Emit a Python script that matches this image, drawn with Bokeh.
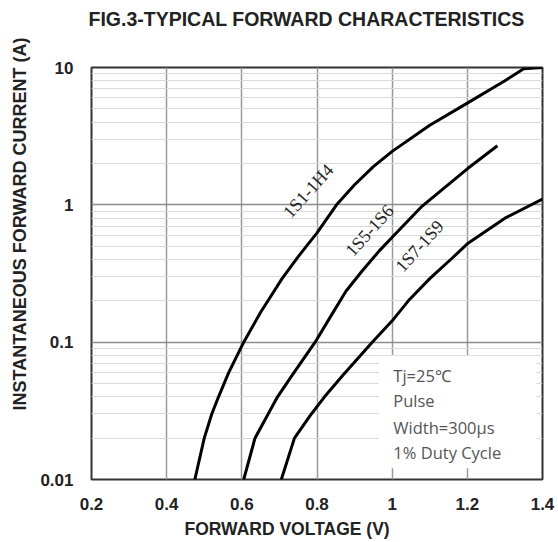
import math
from bokeh.plotting import figure
from bokeh.models import FixedTicker, Label, Title
from bokeh.embed import file_html
from bokeh.resources import INLINE

# ---- data ----
x_ticks = [0.2, 0.4, 0.6, 0.8, 1.0, 1.2, 1.4]
x_tick_labels = ["0.2", "0.4", "0.6", "0.8", "1", "1.2", "1.4"]
y_ticks = [0.01, 0.1, 1, 10]
y_tick_labels = ["0.01", "0.1", "1", "10"]

s1_name = "1S1-1H4"
s1_v = [0.475, 0.50, 0.52, 0.538, 0.565, 0.605, 0.65, 0.707, 0.75, 0.80, 0.852, 0.90, 0.95, 1.0, 1.1, 1.2, 1.3, 1.35, 1.4]
s1_i = [0.01, 0.02, 0.03, 0.04, 0.06, 0.1, 0.165, 0.29, 0.42, 0.625, 1.0, 1.4, 1.9, 2.45, 3.8, 5.5, 8.0, 9.8, 10.0]

s2_name = "1S5-1S6"
s2_v = [0.605, 0.635, 0.67, 0.695, 0.735, 0.795, 0.84, 0.877, 0.92, 0.965, 1.0, 1.08, 1.2, 1.28]
s2_i = [0.01, 0.02, 0.03, 0.04, 0.058, 0.1, 0.16, 0.235, 0.33, 0.46, 0.58, 0.98, 1.83, 2.69]

s3_name = "1S7-1S9"
s3_v = [0.705, 0.74, 0.785, 0.82, 0.87, 0.947, 1.0, 1.043, 1.1, 1.16, 1.2, 1.3, 1.4]
s3_i = [0.01, 0.02, 0.03, 0.04, 0.058, 0.1, 0.143, 0.2, 0.29, 0.41, 0.52, 0.8, 1.1]

note_lines = ["Tj=25\u2103", "Pulse", "Width=300\u03bcs", "1% Duty Cycle"]

title_text = "FIG.3-TYPICAL FORWARD CHARACTERISTICS"
x_label = "FORWARD VOLTAGE (V)"
y_label = "INSTANTANEOUS FORWARD CURRENT (A)"

# ---- figure ----
p = figure(width=558, height=542, x_range=(0.2, 1.4), y_range=(0.01, 10),
           y_axis_type="log", output_backend="svg", toolbar_location=None,
           min_border_left=90, min_border_right=16, min_border_top=67,
           min_border_bottom=63)
p.background_fill_color = "white"
p.border_fill_color = "white"
p.outline_line_color = "#333333"
p.outline_line_width = 2

minor_y = [m * 10.0 ** e for e in (-2, -1, 0) for m in range(2, 10)]
p.xaxis.ticker = FixedTicker(ticks=x_ticks)
p.yaxis.ticker = FixedTicker(ticks=y_ticks, minor_ticks=minor_y)
p.xaxis.major_label_overrides = dict(zip(x_ticks, x_tick_labels))
p.yaxis.major_label_overrides = dict(zip(y_ticks, y_tick_labels))

for ax in (p.xaxis, p.yaxis):
    ax.axis_line_color = None
    ax.major_tick_line_color = None
    ax.minor_tick_line_color = None
    ax.major_label_text_font = "Liberation Sans"
    ax.major_label_text_font_style = "bold"
    ax.major_label_text_font_size = "17px"
    ax.major_label_text_color = "#222222"
p.xaxis.major_label_standoff = 12
p.yaxis.major_label_standoff = 12

p.xgrid.grid_line_color = "#999999"
p.xgrid.grid_line_width = 1.5
p.ygrid.grid_line_color = "#8c8c8c"
p.ygrid.grid_line_width = 1.5
p.ygrid.minor_grid_line_color = "#d9d9d9"
p.ygrid.minor_grid_line_width = 1.2

# white note box covering the grid
p.quad(left=[0.964], right=[1.384], bottom=[0.0121], top=[0.0795],
       fill_color="white", line_color=None)

for v, i in ((s1_v, s1_i), (s2_v, s2_i), (s3_v, s3_i)):
    p.line(v, i, line_color="black", line_width=3)

# curve labels
ang = math.radians(48)
for name, lx, ly in ((s1_name, 0.777, 1.26), (s2_name, 0.94, 0.65), (s3_name, 1.073, 0.50)):
    p.add_layout(Label(x=lx, y=ly, text=name, angle=ang, text_align="center",
                       text_baseline="middle", text_font="Liberation Serif",
                       text_font_size="18px", text_color="#222222"))

# note text
for t, ny in zip(note_lines, [0.057, 0.0375, 0.0239, 0.0157]):
    p.add_layout(Label(x=1.003, y=ny, text=t, text_align="left",
                       text_baseline="middle", text_font="Open Sans",
                       text_font_size="16.5px", text_color="#555555"))

# titles
p.title.text = title_text
p.title.align = "left"
p.title.offset = -3
p.title.text_font = "Liberation Sans"
p.title.text_font_style = "bold"
p.title.text_font_size = "19.5px"
p.title.text_color = "#222222"
p.title.standoff = 0
p.title.vertical_align = "bottom"
# spacer between title and frame
p.add_layout(Title(text=" ", text_font_size="1px", standoff=35), "above")

p.add_layout(Title(text=x_label, align="left", offset=93,
                   text_font="Liberation Sans", text_font_style="bold",
                   text_font_size="17.5px", text_color="#222222", standoff=8), "below")
p.add_layout(Title(text=y_label, align="left", offset=69,
                   text_font="Liberation Sans", text_font_style="bold",
                   text_font_size="18px", text_color="#222222", standoff=15), "left")

open("out.html", "w").write(file_html(p, INLINE))
